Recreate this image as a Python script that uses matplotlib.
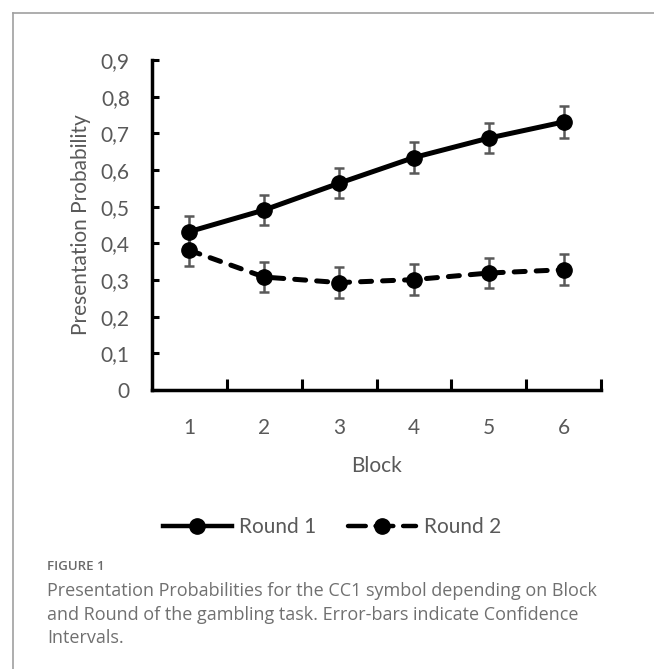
import matplotlib
matplotlib.use("Agg")
import matplotlib.pyplot as plt
from matplotlib.lines import Line2D

blocks = [1, 2, 3, 4, 5, 6]
round1 = [0.432, 0.491, 0.564, 0.634, 0.687, 0.731]
round1_err = [0.042, 0.041, 0.041, 0.041, 0.042, 0.043]
round2 = [0.381, 0.308, 0.293, 0.301, 0.319, 0.328]
round2_err = [0.043, 0.042, 0.042, 0.042, 0.042, 0.042]
y_ticks = [0, 0.1, 0.2, 0.3, 0.4, 0.5, 0.6, 0.7, 0.8, 0.9]
y_labels = ["0", "0,1", "0,2", "0,3", "0,4", "0,5", "0,6", "0,7", "0,8", "0,9"]

gray = "#595959"
plt.rcParams["font.family"] = ["Lato", "DejaVu Sans"]

fig = plt.figure(figsize=(6.54, 6.69), dpi=100)
ax = fig.add_axes([152 / 654, 1 - 390 / 669, 449 / 654, 330 / 669])

# error bars first, then lines with markers on top
for vals, errs in [(round1, round1_err), (round2, round2_err)]:
    ax.errorbar(blocks, vals, yerr=errs, fmt="none", ecolor=gray,
                elinewidth=1.8, capsize=3.8, capthick=1.8, zorder=2)
ax.plot(blocks, round1, color="black", lw=3.6, marker="o", ms=11,
        solid_capstyle="round", zorder=3)
ax.plot(blocks, round2, color="black", lw=3.6, marker="o", ms=11,
        dashes=(2.2, 2.2), dash_capstyle="round", zorder=3)

ax.set_xlim(0.5, 6.5)
ax.set_ylim(0, 0.9)
ax.set_yticks(y_ticks)
ax.set_yticklabels(y_labels)
ax.set_xticks(blocks)
ax.set_xticks([b + 0.5 for b in blocks], minor=True)
ax.tick_params(axis="x", which="major", length=0, pad=20, labelsize=15, labelcolor=gray)
ax.tick_params(axis="x", which="minor", direction="in", length=8, width=2.2, color="black")
ax.tick_params(axis="y", direction="in", length=5, width=2.2, pad=16,
               labelsize=15, labelcolor=gray)

for side in ["top", "right"]:
    ax.spines[side].set_visible(False)
for side in ["left", "bottom"]:
    ax.spines[side].set_linewidth(2.5)
    ax.spines[side].set_capstyle("projecting")

ax.set_xlabel("Block", fontsize=15, color=gray, labelpad=13)
ax.set_ylabel("Presentation Probability", fontsize=15, color=gray, labelpad=7)

handles = [
    Line2D([], [], color="black", lw=3.2, marker="o", ms=11),
    Line2D([], [], color="black", lw=3.2, marker="o", ms=11,
           dashes=(4, 2.2), dash_capstyle="round"),
]
fig.legend(handles, ["Round 1", "Round 2"], loc="center",
           bbox_to_anchor=(332 / 654, 1 - 527 / 669), ncol=2, frameon=False,
           handlelength=3.3, handletextpad=0.35, columnspacing=1.5,
           prop={"size": 15}, labelcolor=gray)

# frame of the figure panel
fx, fy = 12.5 / 654, 1 - 12.5 / 669
fig.add_artist(Line2D([fx, 1], [fy, fy], color="#a0a0a0", lw=1.2))
fig.add_artist(Line2D([fx, fx], [0, fy], color="#a0a0a0", lw=1.2))

cap_font = ["Open Sans", "DejaVu Sans"]
fig.text(47 / 654, 1 - 567 / 669, "FIGURE 1", fontsize=9.5, color="#6a6a6a",
         weight="semibold", va="center", family=cap_font)
caption = ["Presentation Probabilities for the CC1 symbol depending on Block",
           "and Round of the gambling task. Error-bars indicate Confidence",
           "Intervals."]
for i, line in enumerate(caption):
    fig.text(47 / 654, 1 - (591 + 23.5 * i) / 669, line, fontsize=13,
             color="#707070", va="center", family=cap_font)

fig.savefig("out.png", dpi=100)
